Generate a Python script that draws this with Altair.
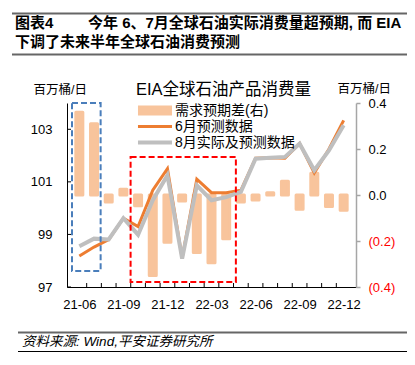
import altair as alt
import pandas as pd

# ---------------- data ----------------
months = ["21-06", "21-07", "21-08", "21-09", "21-10", "21-11", "21-12",
          "22-01", "22-02", "22-03", "22-04", "22-05", "22-06", "22-07",
          "22-08", "22-09", "22-10", "22-11", "22-12"]
# 需求预期差(右) — right axis
gap = [0.36, 0.31, -0.03, 0.025, -0.047, -0.35, -0.205, -0.026, -0.25, -0.295,
       -0.19, -0.03, -0.022, 0.01, 0.06, -0.062, 0.095, -0.05, -0.066]
# 6月预测数据 — left axis
june = [98.18, 98.52, 98.80, 99.62, 99.30, 100.68, 101.50, 98.10, 101.10, 100.59,
        100.59, 100.68, 101.90, 101.92, 101.90, 102.46, 101.34, 102.25, 103.34]
# 8月实际及预测数据 — left axis
aug = [98.55, 98.84, 98.81, 99.62, 98.99, 100.30, 101.25, 98.08, 100.87, 100.30,
       100.42, 100.62, 101.88, 101.92, 101.95, 102.45, 101.44, 102.20, 103.15]

label_idx = [0, 3, 6, 9, 12, 15, 18]
left_ticks = [97, 99, 101, 103]
right_ticks = [-0.4, -0.2, 0.0, 0.2, 0.4]

series_names = ["需求预期差(右)", "6月预测数据", "8月实际及预测数据"]
series_colors = ["#F8C49C", "#ED7D31", "#BFBFBF"]

# highlight boxes (month index, left-axis value)
box_x0 = [-0.5, 3.49]
box_x1 = [1.45, 10.66]
box_y0 = [97.61, 97.19]
box_y1 = [104.0, 101.95]
box_colors = ["#4A7EBB", "#FF0000"]

header_1a = "图表4"
header_1b = "今年 6、7月全球石油实际消费量超预期, 而 EIA"
header_2 = "下调了未来半年全球石油消费预测"
source_text = "资料来源: Wind,平安证券研究所"
legend_title = "EIA全球石油产品消费量"
unit = "百万桶/日"

FONT = "Liberation Sans, Noto Sans CJK SC, sans-serif"
W, H = 289, 184

df = pd.DataFrame({"i": list(range(len(months))), "month": months,
                   "gap": gap, "june": june, "aug": aug})
boxes = pd.DataFrame({"x0": box_x0, "x1": box_x1, "y0": box_y0, "y1": box_y1,
                      "c": box_colors})
xt = pd.DataFrame({"t": [k + 0.5 for k in range(len(months) - 1)]})
lt = pd.DataFrame({"v": left_ticks})
leg = pd.DataFrame({"s": series_names})

months_js = "[" + ",".join("'%s'" % m for m in months) + "]"

xscale = alt.Scale(domain=[-0.5, len(months) - 0.5], nice=False, zero=False)
xaxis = alt.Axis(values=label_idx, labelExpr=months_js + "[datum.value]",
                 ticks=False, tickSize=0, labelPadding=11, labelFontSize=13,
                 labelColor="black", domainColor="black", domainWidth=1,
                 grid=False, title=None, labelFont=FONT)


def X(field="i"):
    return alt.X(field + ":Q", scale=xscale, axis=xaxis)


lscale = alt.Scale(domain=[97, 104], nice=False, zero=False)
rscale = alt.Scale(domain=[-0.4, 0.4], nice=False, zero=False)

left_axis = alt.Axis(orient="left", values=left_ticks, ticks=False, tickSize=0,
                     labelPadding=15, labelFontSize=13, labelColor="black",
                     domainColor="black", domainWidth=1, grid=False,
                     title=unit, titleAngle=0, titleAlign="left",
                     titleBaseline="middle", titleX=-34, titleY=-14,
                     titleFontSize=12.5, titleFontWeight="normal",
                     titleColor="black", titleFont=FONT, labelFont=FONT)

right_axis = alt.Axis(orient="right", values=right_ticks, tickSize=4,
                      tickColor="#A6A6A6", tickWidth=1.5, labelPadding=8,
                      labelFontSize=13,
                      labelExpr="datum.value < 0 ? '(' + format(-datum.value, '.1f') + ')' : format(datum.value, '.1f')",
                      labelColor={"condition": {"test": "datum.value < 0", "value": "#FF0000"},
                                  "value": "black"},
                      domainColor="#A6A6A6", domainWidth=1.5, grid=False,
                      title=unit, titleAngle=0, titleAlign="left",
                      titleBaseline="middle", titleX=-19, titleY=-15,
                      titleFontSize=12.5, titleFontWeight="normal",
                      titleColor="black", titleFont=FONT, labelFont=FONT)

base = alt.Chart(df)

bars = base.mark_bar(size=7, stroke=series_colors[0], strokeWidth=3,
                     strokeJoin="round", color=series_colors[0]).encode(
    x=X(), y=alt.Y("gap:Q", scale=rscale, axis=right_axis), y2=alt.datum(0))

orange = base.mark_line(color=series_colors[1], strokeWidth=3).encode(
    x=X(), y=alt.Y("june:Q", scale=lscale, axis=left_axis))

gray = base.mark_line(color=series_colors[2], strokeWidth=4).encode(
    x=X(), y=alt.Y("aug:Q", scale=lscale, axis=None))

box = alt.Chart(boxes).mark_rect(filled=False, strokeWidth=2, strokeDash=[6, 3]).encode(
    x=X("x0"), x2="x1:Q",
    y=alt.Y("y0:Q", scale=lscale, axis=None), y2="y1:Q",
    color=alt.Color("c:N", scale=None))

lticks = alt.Chart(lt).mark_rule(color="black", strokeWidth=1).encode(
    y=alt.Y("v:Q", scale=lscale, axis=None), x=alt.value(0), x2=alt.value(4))

xticks = alt.Chart(xt).mark_rule(color="black", strokeWidth=1).encode(
    x=X("t"), y=alt.value(H), y2=alt.value(H - 4))

p_bar = "M-0.78,-0.55L3,-0.55L3,0.55L-0.78,0.55Z"
p_or = "M-0.78,-0.17L3,-0.17L3,0.17L-0.78,0.17Z"
p_gr = "M-0.78,-0.22L3,-0.22L3,0.22L-0.78,0.22Z"

legend = alt.Legend(orient="none", legendX=69, legendY=-21, title=legend_title,
                    titleFontSize=16.5, titleFontWeight="normal", titleColor="black",
                    titleFont=FONT, titlePadding=3, labelFontSize=14,
                    labelColor="black", labelFont=FONT, symbolSize=324,
                    symbolStrokeWidth=0, labelOffset=21, rowPadding=0, padding=0)

legpts = alt.Chart(leg).mark_point(filled=True, size=0, opacity=1).encode(
    color=alt.Color("s:N", scale=alt.Scale(domain=series_names, range=series_colors),
                    legend=legend, sort=series_names),
    shape=alt.Shape("s:N", scale=alt.Scale(domain=series_names, range=[p_bar, p_or, p_gr]),
                    legend=legend, sort=series_names))

one = alt.Data(values=[{}])


def txt(s, x, y, size, weight="normal", style="normal", align="left"):
    return alt.Chart(one).mark_text(text=s, fontSize=size, fontWeight=weight,
                                    fontStyle=style, align=align, baseline="middle",
                                    font=FONT, color="black").encode(
        x=alt.value(x), y=alt.value(y))


def hrule(y, color, width):
    return alt.Chart(one).mark_rule(color=color, strokeWidth=width).encode(
        x=alt.value(-55), x2=alt.value(340), y=alt.value(y))


def hrule2(y, color, width):
    return alt.Chart(one).mark_rule(color=color, strokeWidth=width).encode(
        x=alt.value(-49), x2=alt.value(340), y=alt.value(y))


deco = [
    hrule(-89.5, "#666666", 2),
    txt(header_1a, -52, -80, 15, "bold"),
    txt(header_1b, 21, -80, 15, "bold"),
    txt(header_2, -52, -61.5, 15, "bold"),
    hrule(-48.5, "#666666", 2),
    hrule2(229.5, "#666666", 2),
    txt(source_text, -45, 239, 13.5, style="italic"),
    hrule2(248.5, "black", 1),
]

chart = alt.layer(bars, orange, gray, box, lticks, xticks, legpts, *deco).resolve_scale(
    y="independent"
).properties(
    width=W, height=H, autosize="none",
    padding={"left": 59, "top": 95, "right": 51, "bottom": 70},
    background="white"
).configure_view(stroke=None)

chart.save("out.html", embed_options={"renderer": "svg", "actions": False})
